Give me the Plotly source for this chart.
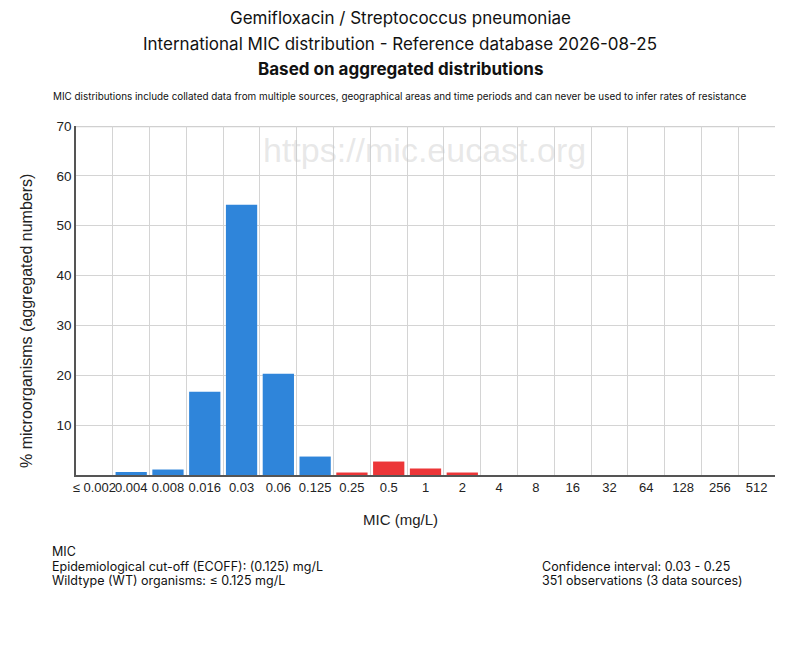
import plotly.graph_objects as go

# MIC distribution, Gemifloxacin / S. pneumoniae
mic_labels = ['≤ 0.002', '0.004', '0.008', '0.016', '0.03', '0.06', '0.125', '0.25', '0.5',
              '1', '2', '4', '8', '16', '32', '64', '128', '256', '512']
percent = [0, 0.6, 1.1, 16.7, 54.2, 20.3, 3.7, 0.5, 2.7, 1.3, 0.5, 0, 0, 0, 0, 0, 0, 0, 0]
ecoff_index = 6  # 0.125 mg/L, last wildtype class
y_ticks = [10, 20, 30, 40, 50, 60, 70]

BLUE = '#2F85DA'
RED = '#EC3638'
HEAD_FONT = 'Inter, Liberation Sans, sans-serif'
AXIS_FONT = 'Liberation Sans, Arial, sans-serif'

# the page body adds an 8px margin, so work in screen pixels and shift back
OFF = 8
L, R, T, B = 76 - OFF, 775 - OFF, 126 - OFF, 475 - OFF
W, H = R - L, B - T


def px(x):
    return (x - OFF - L) / W


def py(y):
    return (B - (y - OFF)) / H


bar_colors = [BLUE if i <= ecoff_index else RED for i in range(len(mic_labels))]

fig = go.Figure()
fig.add_trace(go.Bar(
    x=mic_labels,
    y=percent,
    marker=dict(color=bar_colors, line=dict(width=0)),
    showlegend=False,
    hoverinfo='x+y'
))

fig.update_layout(
    width=800, height=650,
    margin=dict(l=L, r=800 - R, t=T, b=650 - B, autoexpand=False),
    paper_bgcolor='white',
    plot_bgcolor='white',
    bargap=0.15,
    font=dict(family=AXIS_FONT, size=13, color='#222'),
    xaxis=dict(
        type='category',
        tickson='boundaries',
        showgrid=True, gridcolor='#d4d4d4', gridwidth=1,
        showline=True, linecolor='#555', linewidth=1.5,
        ticks='', tickangle=0, automargin=False,
        tickfont=dict(family=AXIS_FONT, size=13, color='#222'),
        range=[-0.5, len(mic_labels) - 0.5],
    ),
    yaxis=dict(
        range=[0, 70],
        tickvals=y_ticks,
        showgrid=True, gridcolor='#d4d4d4', gridwidth=1,
        showline=True, linecolor='#555', linewidth=1.5,
        zeroline=False, automargin=False,
        ticks='', tickfont=dict(family=AXIS_FONT, size=13.5, color='#222'),
    ),
)

# thicker top border of plot
fig.add_shape(type='line', xref='paper', yref='y', x0=0, x1=1, y0=70, y1=70,
              line=dict(color='#d0d0d0', width=2.5), layer='below')

headings = [
    ('Gemifloxacin / Streptococcus pneumoniae', 18, 17),
    ('International MIC distribution - Reference database 2026-08-25', 44, 17),
    ('<b>Based on aggregated distributions</b>', 69, 17),
    ('MIC distributions include collated data from multiple sources, geographical areas and time periods '
     'and can never be used to infer rates of resistance', 96, 9.9),
]
for txt, yy, size in headings:
    fig.add_annotation(
        text=txt, xref='paper', yref='paper',
        x=px(400), y=py(yy),
        xanchor='center', yanchor='middle', showarrow=False,
        font=dict(family=HEAD_FONT, size=size, color='#111'),
    )

# axis titles
fig.add_annotation(text='MIC (mg/L)', xref='paper', yref='paper', x=px(400), y=py(519),
                   xanchor='center', yanchor='middle', showarrow=False,
                   font=dict(family=AXIS_FONT, size=15, color='#222'))
fig.add_annotation(text='% microorganisms (aggregated numbers)', xref='paper', yref='paper',
                   x=px(26), y=py(321), textangle=-90,
                   xanchor='center', yanchor='middle', showarrow=False,
                   font=dict(family=AXIS_FONT, size=16, color='#222'))

# watermark
fig.add_annotation(
    text='https://mic.eucast.org', xref='paper', yref='paper',
    x=px(424), y=py(150),
    xanchor='center', yanchor='middle', showarrow=False,
    font=dict(family=AXIS_FONT, size=34, color='rgba(200,200,200,0.42)'),
)

# footer notes
left_notes = ['MIC', 'Epidemiological cut-off (ECOFF): (0.125) mg/L', 'Wildtype (WT) organisms: ≤ 0.125 mg/L']
left_y = [551, 566, 580]
right_notes = ['Confidence interval: 0.03 - 0.25', '351 observations (3 data sources)']
right_y = [566, 580]
for txt, yy in zip(left_notes, left_y):
    fig.add_annotation(text=txt, xref='paper', yref='paper',
                       x=px(50), y=py(yy),
                       xanchor='left', yanchor='middle', showarrow=False,
                       font=dict(family=HEAD_FONT, size=12.5, color='#111'))
for txt, yy in zip(right_notes, right_y):
    fig.add_annotation(text=txt, xref='paper', yref='paper',
                       x=px(540), y=py(yy),
                       xanchor='left', yanchor='middle', showarrow=False,
                       font=dict(family=HEAD_FONT, size=12.5, color='#111'))

fig.write_html('out.html')
